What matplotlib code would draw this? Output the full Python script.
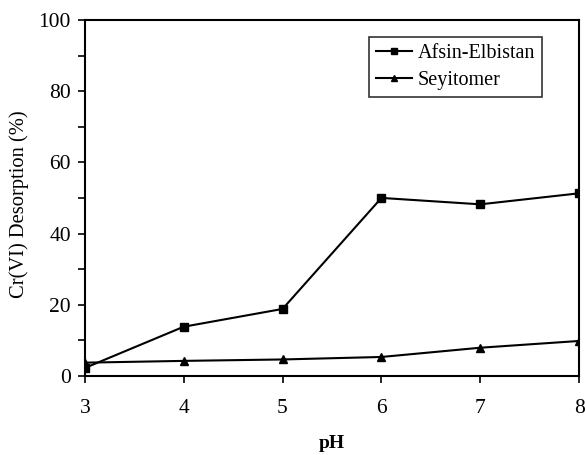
import matplotlib
matplotlib.use("Agg")
import matplotlib.pyplot as plt
from matplotlib.ticker import MultipleLocator

plt.rcParams['font.family'] = ['Liberation Serif', 'DejaVu Serif']

ph = [3, 4, 5, 6, 7, 8]
afsin = [2.2, 13.8, 18.8, 50.0, 48.2, 51.3]
seyit = [3.7, 4.2, 4.6, 5.3, 7.9, 9.8]

fig = plt.figure(figsize=(5.85, 4.55), dpi=100)
ax = fig.add_axes([0.145, 0.174, 0.845, 0.782])

ax.plot(ph, afsin, color='black', marker='s', markersize=5.8, linewidth=1.5, label='Afsin-Elbistan')
ax.plot(ph, seyit, color='black', marker='^', markersize=6, linewidth=1.5, label='Seyitomer')

ax.set_xlim(3, 8)
ax.set_ylim(0, 100)
ax.xaxis.set_major_locator(MultipleLocator(1))
ax.yaxis.set_major_locator(MultipleLocator(20))
ax.yaxis.set_minor_locator(MultipleLocator(10))
ax.tick_params(axis='both', which='major', direction='out', length=5, width=1.2, labelsize=15.5)
ax.tick_params(axis='y', which='major', pad=5)
ax.tick_params(axis='x', which='major', pad=12)
ax.tick_params(axis='y', which='minor', direction='out', length=5, width=1.2)
for s in ax.spines.values():
    s.set_linewidth(1.5)
    s.set_color('black')

ax.set_ylabel('Cr(VI) Desorption (%)', fontsize=14.8)
ax.yaxis.set_label_coords(-0.112, 0.483)
ax.set_xlabel('pH', fontsize=14, fontweight='bold', labelpad=12)

leg = ax.legend(loc='upper right', bbox_to_anchor=(0.925, 0.952), frameon=True, fancybox=False,
                edgecolor='black', fontsize=14.5, handlelength=1.75, borderpad=0.35, labelspacing=0.4,
                handletextpad=0.3, markerscale=0.75, borderaxespad=0)
leg.get_frame().set_linewidth(1.2)

fig.savefig('out.png', dpi=100)
